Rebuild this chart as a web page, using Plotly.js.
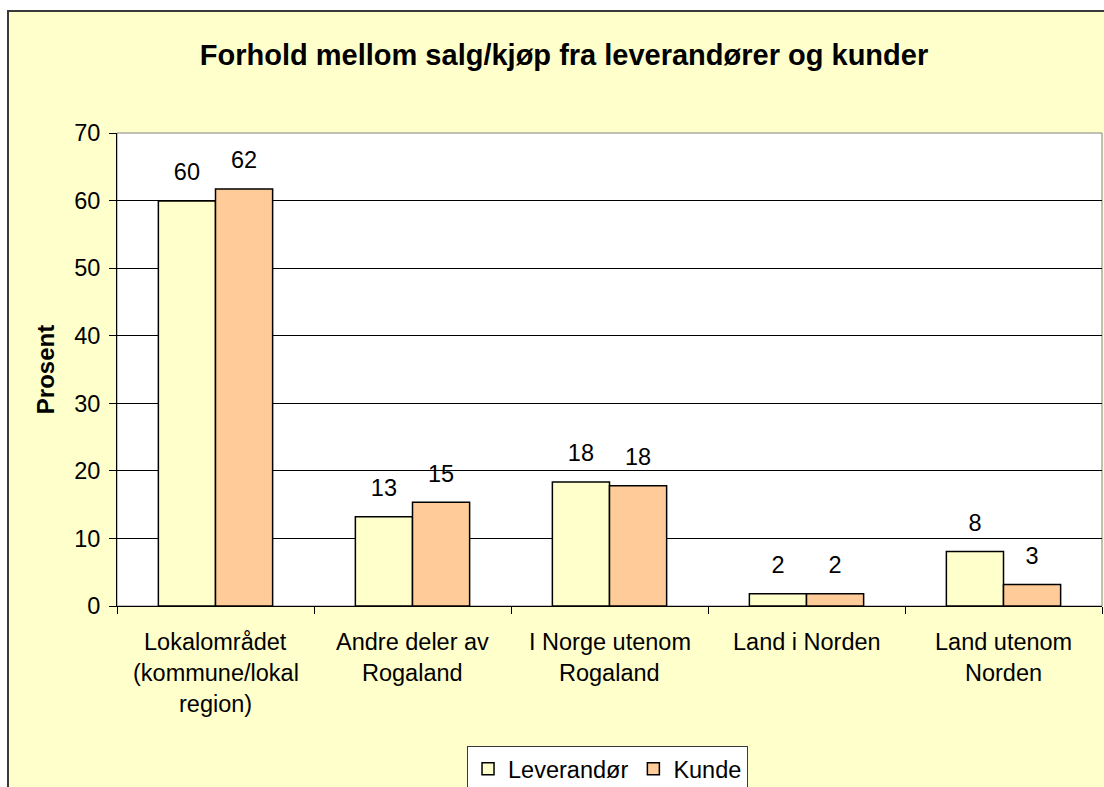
<!DOCTYPE html>
<html>
<head>
<meta charset="utf-8">
<script src="https://cdn.plot.ly/plotly-3.0.1.min.js"></script>
<style>
  html, body { margin: 0; padding: 0; background: #ffffff; overflow: hidden; }
  #chart { position: absolute; left: 7px; top: 10px; width: 1110px; height: 790px; border: 2px solid #3a3a3a; }
</style>
</head>
<body>
<div id="chart"></div>
<script>
const categories = [
  'Lokalområdet (kommune/lokal region)',
  'Andre deler av Rogaland',
  'I Norge utenom Rogaland',
  'Land i Norden',
  'Land utenom Norden'
];
const tickLines = [
  ['Lokalområdet', '(kommune/lokal', 'region)'],
  ['Andre deler av', 'Rogaland'],
  ['I Norge utenom', 'Rogaland'],
  ['Land i Norden'],
  ['Land utenom', 'Norden']
];
const leverandor = [59.95, 13.2, 18.35, 1.8, 8.05];
const kunde = [61.7, 15.35, 17.8, 1.8, 3.2];
const seriesNames = ['Leverandør', 'Kunde'];
const yTicks = [0, 10, 20, 30, 40, 50, 60, 70];
const chartTitle = 'Forhold mellom salg/kjøp fra leverandører og kunder';
const yTitle = 'Prosent';

const FONT = 'Arial, "Liberation Sans", sans-serif';
const FS = 23.5;
const colors = ['#FFFFCC', '#FFCC99'];
const GAP = 0.42;

const seriesData = [leverandor, kunde];
const traces = [];
seriesData.forEach((vals, i) => {
  traces.push({
    type: 'bar', name: seriesNames[i], x: categories, y: vals,
    marker: { color: colors[i], line: { color: '#000000', width: 1.5 } },
    hoverinfo: 'skip'
  });
});
seriesData.forEach((vals, i) => {
  traces.push({
    type: 'scatter', mode: 'markers+text', x: categories, y: vals,
    texttemplate: '%{y:.0f}', textposition: 'top center',
    textfont: { family: FONT, size: FS, color: '#000000' },
    marker: { size: 22, opacity: 0 },
    showlegend: false, hoverinfo: 'skip', cliponaxis: false
  });
});

const annotations = [];
tickLines.forEach((lines, ci) => {
  lines.forEach((ln, li) => {
    annotations.push({
      x: categories[ci], xref: 'x', y: 0, yref: 'paper',
      yanchor: 'middle', xanchor: 'center',
      yshift: -36 - li * 31, text: ln, showarrow: false,
      font: { family: FONT, size: FS, color: '#000000' }
    });
  });
});

const layout = {
  width: 1110, height: 790,
  margin: { l: 108, r: 17, t: 121, b: 196, autoexpand: false },
  paper_bgcolor: '#FFFFCC', plot_bgcolor: '#FFFFFF',
  font: { family: FONT, size: FS, color: '#000000' },
  title: {
    text: '<b>' + chartTitle + '</b>', xref: 'container', x: 0.5,
    yref: 'container', y: 1 - 43 / 790, yanchor: 'middle',
    font: { family: FONT, size: 29, color: '#000000' }
  },
  barmode: 'group', bargap: GAP, bargroupgap: 0,
  scattermode: 'group', scattergap: GAP,
  xaxis: {
    type: 'category', showticklabels: false, tickson: 'boundaries',
    ticks: 'outside', ticklen: 7, tickcolor: '#000000', tickwidth: 1,
    showline: true, linecolor: '#000000', linewidth: 1,
    showgrid: false, zeroline: false, fixedrange: true
  },
  yaxis: {
    range: [0, 70], tickvals: yTicks, ticktext: yTicks.map(String),
    ticks: 'outside', ticklen: 7, tickcolor: '#000000', ticklabelstandoff: 4,
    showline: true, linecolor: '#000000', linewidth: 1,
    showgrid: true, gridcolor: '#000000', gridwidth: 1, zeroline: false,
    tickfont: { family: FONT, size: FS, color: '#000000' },
    title: { text: '<b>' + yTitle + '</b>', standoff: 12, font: { family: FONT, size: 24, color: '#000000' } },
    fixedrange: true
  },
  legend: {
    orientation: 'h', x: 0.498, xanchor: 'center', y: -140 / 473, yanchor: 'top',
    bgcolor: '#FFFFFF', bordercolor: '#3a3a3a', borderwidth: 1,
    font: { family: FONT, size: FS, color: '#000000' },
    itemwidth: 30, traceorder: 'normal'
  },
  shapes: [{
    type: 'rect', xref: 'paper', yref: 'paper', x0: 0, x1: 1, y0: 0, y1: 1,
    line: { color: '#808080', width: 1 }, fillcolor: 'rgba(0,0,0,0)', layer: 'below'
  }],
  annotations: annotations,
  showlegend: true
};

Plotly.newPlot('chart', traces, layout, { displayModeBar: false, staticPlot: true });
</script>
</body>
</html>
